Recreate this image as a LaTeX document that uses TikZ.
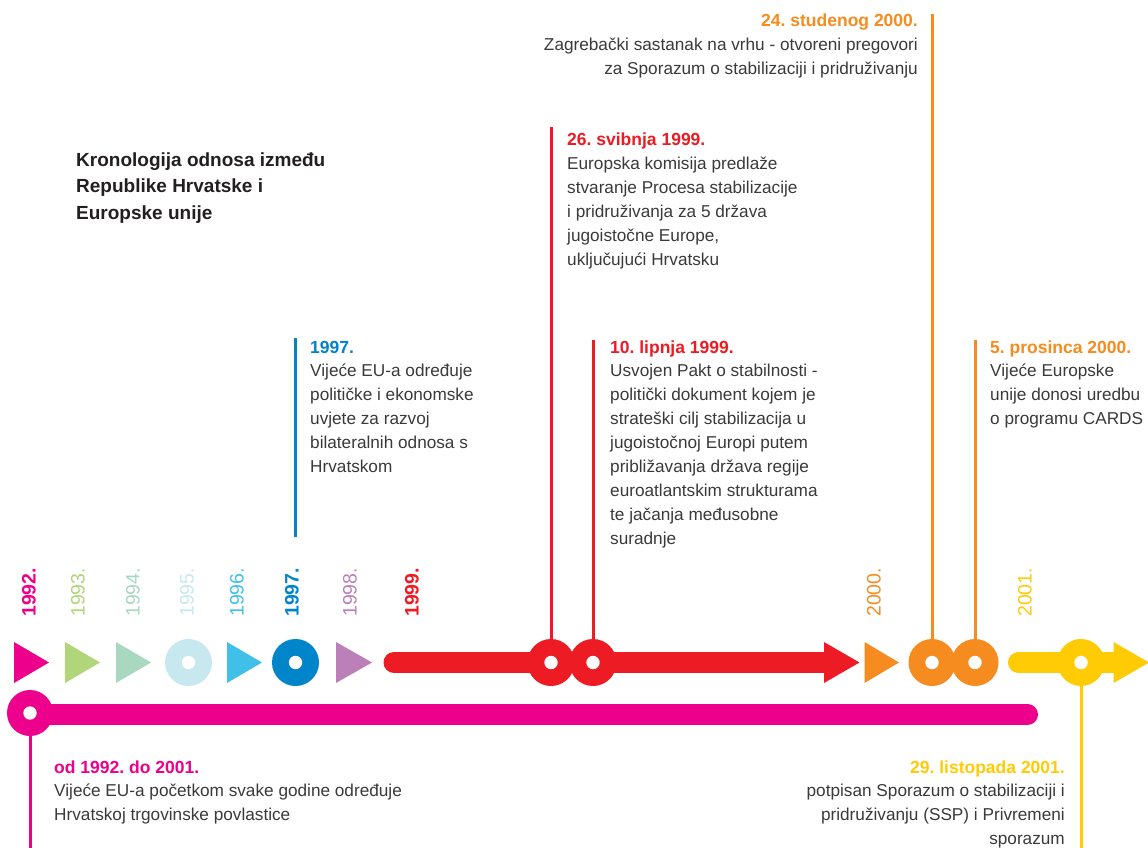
\documentclass[tikz,border=0pt]{standalone}
\usepackage{fontspec}
\setmainfont{Liberation Sans}
\definecolor{cpink}{HTML}{EC008C}
\definecolor{cgreen}{HTML}{B0D57A}
\definecolor{cmint}{HTML}{A8D8C0}
\definecolor{clblue}{HTML}{C8E8F0}
\definecolor{ccyan}{HTML}{40C0E8}
\definecolor{cblue}{HTML}{0085CA}
\definecolor{cpurple}{HTML}{BB80B8}
\definecolor{cred}{HTML}{ED1C24}
\definecolor{corange}{HTML}{F68B1F}
\definecolor{cyellow}{HTML}{FFCB05}
\definecolor{txt}{HTML}{3A3A3A}
\definecolor{ttl}{HTML}{231F20}
\newcommand\hd[2]{{\color{#1}\fontsize{17.5}{23.9}\selectfont\bfseries #2}}
\frenchspacing
\begin{document}
\begin{tikzpicture}[x=1pt,y=-1pt,
  body/.style={inner sep=0pt, text=txt, font=\fontsize{17.2}{23.9}\selectfont},
  ring/.style={circle, fill=#1, minimum size=47pt, inner sep=0pt,
    path picture={\fill[white] (path picture bounding box.center) circle[radius=6.7pt];}},
  stem/.style={line width=3pt, draw=#1},
  bar/.style={line width=21pt, draw=#1, line cap=round},
  yr/.style={rotate=90, anchor=west, inner sep=0pt, font=\fontsize{19.5}{19.5}\selectfont, text=#1},
  yrb/.style={yr=#1, font=\fontsize{19.5}{19.5}\selectfont\bfseries},
]
\useasboundingbox (0,0) rectangle (1148,848);
\fill[white] (0,0) rectangle (1148,848);

% ---- year labels ----
\node[yrb=cpink] (y92) at (29,617) {1992.};
\node[yr=cgreen] (y93) at (78,617) {1993.};
\node[yr=cmint] (y94) at (133,617) {1994.};
\node[yr=clblue] (y95) at (187,617) {1995.};
\node[yr=ccyan] (y96) at (237,617) {1996.};
\node[yrb=cblue] (y97) at (292,617) {1997.};
\node[yr=cpurple] (y98) at (350,617) {1998.};
\node[yrb=cred] (y99) at (412,617) {1999.};
\node[yr=corange] (y00) at (874,617) {2000.};
\node[yr=cyellow] (y01) at (1025,617) {2001.};

% ---- top row markers ----
\fill[cpink] (14,642) -- (49,662.5) -- (14,683) -- cycle;
\fill[cgreen] (65,642) -- (100,662.5) -- (65,683) -- cycle;
\fill[cmint] (116,642) -- (151,662.5) -- (116,683) -- cycle;
\node[ring=clblue] (r95) at (188.5,662.5) {};
\fill[ccyan] (227,642) -- (262,662.5) -- (227,683) -- cycle;
\node[ring=cblue] (r97) at (295.5,662.5) {};
\fill[cpurple] (336,642) -- (372,662.5) -- (336,683) -- cycle;

% red 1999 arrow
\draw[bar=cred] (394,662.5) -- (826,662.5);
\fill[cred] (824,642) -- (859.5,662.5) -- (824,683) -- cycle;
% orange 2000 triangle
\fill[corange] (864.5,642) -- (899,662.5) -- (864.5,683) -- cycle;
% yellow 2001 arrow
\draw[bar=cyellow] (1018.5,662.5) -- (1116,662.5);
\fill[cyellow] (1113.6,642) -- (1149,662.5) -- (1113.6,683) -- cycle;

% pink long bar
\draw[bar=cpink] (30,714.5) -- (1027.5,714.5);

% ---- stems ----
\coordinate (tb1) at (295,338);
\coordinate (tb2) at (295,537);
\coordinate (tr1) at (551,127);
\coordinate (tr2) at (593,340);
\coordinate (to1) at (932,14);
\coordinate (to2) at (975,340);
\coordinate (by1) at (1081,848);
\coordinate (bp1) at (30,848);
\draw[stem=cblue] (tb1) -- (tb2);

% ---- rings on the bars ----
\node[ring=cred] (r1) at (551,662.5) {};
\node[ring=cred] (r2) at (593,662.5) {};
\node[ring=corange] (o1) at (932,662.5) {};
\node[ring=corange] (o2) at (975,662.5) {};
\node[ring=cyellow] (yy) at (1081,662.5) {};
\node[ring=cpink,minimum size=46pt] (p1) at (30,713) {};

\draw[stem=cred] (tr1) -- (r1);
\draw[stem=cred] (tr2) -- (r2);
\draw[stem=corange] (to1) -- (o1);
\draw[stem=corange] (to2) -- (o2);
\draw[stem=cyellow] (yy) -- (by1);
\draw[stem=cpink] (p1) -- (bp1);

% ---- title ----
\node[inner sep=0pt, anchor=base west, text=ttl, font=\fontsize{19}{26.5}\selectfont\bfseries] (title) at (76,166)
  {\begin{tabular}[t]{@{}l@{}}Kronologija odnosa između\\Republike Hrvatske i\\Europske unije\end{tabular}};

% ---- text blocks ----
\node[body, anchor=base east] (t1) at (918,27)
  {\begin{tabular}[t]{@{}r@{}}\hd{corange}{24. studenog 2000.}\\
  Zagrebački sastanak na vrhu - otvoreni pregovori\\
  za Sporazum o stabilizaciji i pridruživanju\end{tabular}};

\node[body, anchor=base west] (t2) at (567,146)
  {\begin{tabular}[t]{@{}l@{}}\hd{cred}{26. svibnja 1999.}\\
  Europska komisija predlaže\\
  stvaranje Procesa stabilizacije\\
  i pridruživanja za 5 država\\
  jugoistočne Europe,\\
  uključujući Hrvatsku\end{tabular}};

\node[body, anchor=base west] (t3) at (310,353)
  {\begin{tabular}[t]{@{}l@{}}\hd{cblue}{1997.}\\
  Vijeće EU-a određuje\\
  političke i ekonomske\\
  uvjete za razvoj\\
  bilateralnih odnosa s\\
  Hrvatskom\end{tabular}};

\node[body, anchor=base west] (t4) at (610,353)
  {\begin{tabular}[t]{@{}l@{}}\hd{cred}{10. lipnja 1999.}\\
  Usvojen Pakt o stabilnosti -\\
  politički dokument kojem je\\
  strateški cilj stabilizacija u\\
  jugoistočnoj Europi putem\\
  približavanja država regije\\
  euroatlantskim strukturama\\
  te jačanja međusobne\\
  suradnje\end{tabular}};

\node[body, anchor=base west] (t5) at (990,353)
  {\begin{tabular}[t]{@{}l@{}}\hd{corange}{5. prosinca 2000.}\\
  Vijeće Europske\\
  unije donosi uredbu\\
  o programu CARDS\end{tabular}};

\node[body, anchor=base west] (t6) at (54,773)
  {\begin{tabular}[t]{@{}l@{}}\hd{cpink}{od 1992. do 2001.}\\
  Vijeće EU-a početkom svake godine određuje\\
  Hrvatskoj trgovinske povlastice\end{tabular}};

\node[body, anchor=base east] (t7) at (1065,773)
  {\begin{tabular}[t]{@{}r@{}}\hd{cyellow}{29. listopada 2001.}\\
  potpisan Sporazum o stabilizaciji i\\
  pridruživanju (SSP) i Privremeni\\
  sporazum\end{tabular}};
\end{tikzpicture}
\end{document}
